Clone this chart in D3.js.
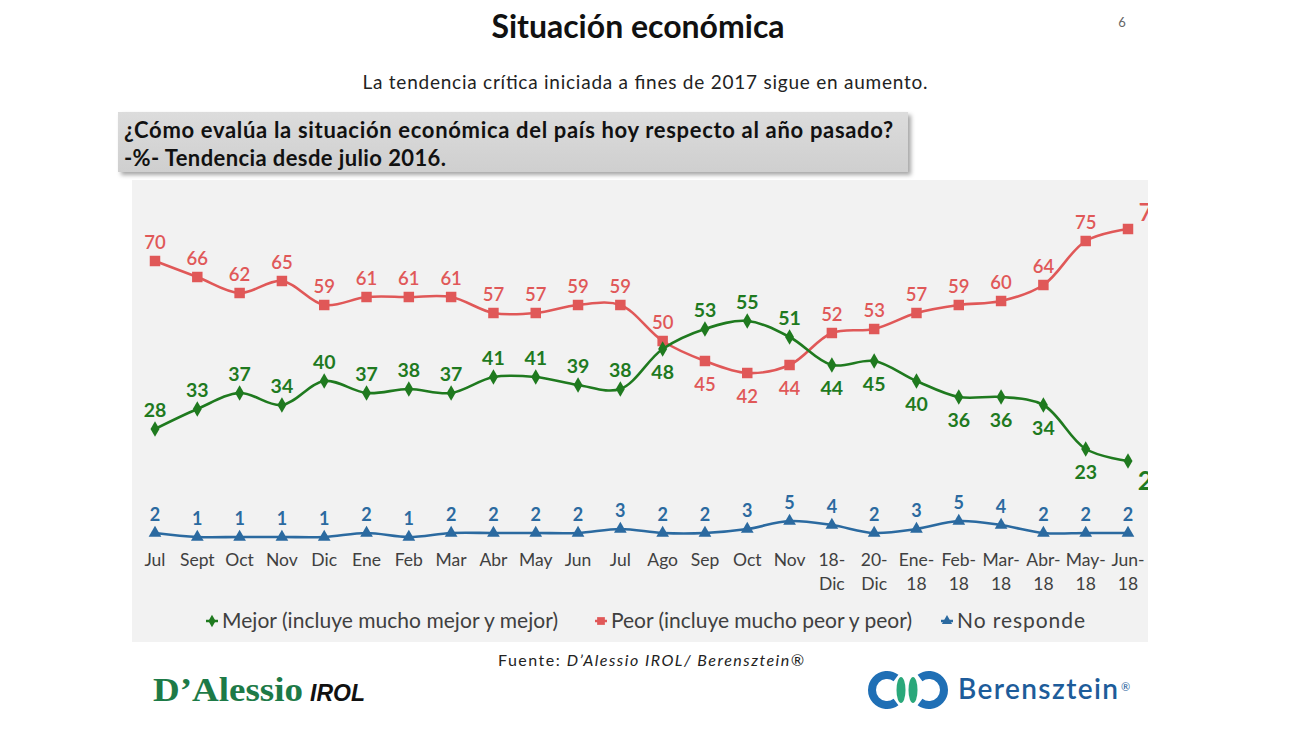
<!DOCTYPE html>
<html><head><meta charset="utf-8">
<script src="https://cdn.jsdelivr.net/npm/d3@7/dist/d3.min.js"></script>
<style>html,body{margin:0;padding:0;background:#fff;}svg{display:block;}</style>
</head><body>
<svg id="c" width="1300" height="730"></svg>
<script>
const categories = [["Jul"],["Sept"],["Oct"],["Nov"],["Dic"],["Ene"],["Feb"],["Mar"],["Abr"],["May"],["Jun"],["Jul"],["Ago"],["Sep"],["Oct"],["Nov"],["18-","Dic"],["20-","Dic"],["Ene-","18"],["Feb-","18"],["Mar-","18"],["Abr-","18"],["May-","18"],["Jun-","18"]];
const mejor = [28,33,37,34,40,37,38,37,41,41,39,38,48,53,55,51,44,45,40,36,36,34,23,20];
const peor  = [70,66,62,65,59,61,61,61,57,57,59,59,50,45,42,44,52,53,57,59,60,64,75,78];
const noResp = [2,1,1,1,1,2,1,2,2,2,2,3,2,2,3,5,4,2,3,5,4,2,2,2];
const mejorBelow = [12,16,17,18,19,20,21,22,23];
const peorBelow = [13,14,15];
const seriesNames = ["Mejor (incluye mucho mejor y mejor)","Peor (incluye mucho peor y peor)","No responde"];

const FONT = "Lato, 'Open Sans', sans-serif";
const GREEN = "#1f7a1f", RED = "#e05858", BLUE = "#2b6aa0", GRAY = "#404040";
const svg = d3.select("#c");

// Title
svg.append("text").attr("x",638).attr("y",38).attr("text-anchor","middle")
  .attr("font-family",FONT).attr("font-weight","bold").attr("font-size",32).attr("fill","#111")
  .text("Situación económica");
svg.append("text").attr("x",1122).attr("y",27).attr("text-anchor","middle")
  .attr("font-family",FONT).attr("font-size",13).attr("fill","#666").text("6");
svg.append("text").attr("x",645).attr("y",89).attr("text-anchor","middle")
  .attr("font-family",FONT).attr("font-size",19).attr("fill","#222")
  .attr("textLength",565).attr("lengthAdjust","spacing")
  .text("La tendencia crítica iniciada a fines de 2017 sigue en aumento.");

// chart panel
svg.append("rect").attr("x",132).attr("y",180).attr("width",1016).attr("height",462).attr("fill","#f2f2f2");

// question box
const defs = svg.append("defs");
const f = defs.append("filter").attr("id","sh").attr("x","-5%").attr("y","-20%").attr("width","110%").attr("height","150%");
f.append("feDropShadow").attr("dx",3).attr("dy",3).attr("stdDeviation",2).attr("flood-color","#000").attr("flood-opacity",0.35);
const g1 = defs.append("linearGradient").attr("id","gb").attr("x1",0).attr("y1",0).attr("x2",0).attr("y2",1);
g1.append("stop").attr("offset","0%").attr("stop-color","#dcdcdc");
g1.append("stop").attr("offset","100%").attr("stop-color","#cfcfcf");
svg.append("rect").attr("x",118).attr("y",112).attr("width",790).attr("height",60).attr("fill","url(#gb)").attr("filter","url(#sh)");
svg.append("text").attr("x",124).attr("y",138).attr("font-family",FONT).attr("font-weight","bold").attr("font-size",22).attr("fill","#111")
  .attr("textLength",769).attr("lengthAdjust","spacing")
  .text("¿Cómo evalúa la situación económica del país hoy respecto al año pasado?");
svg.append("text").attr("x",124).attr("y",166).attr("font-family",FONT).attr("font-weight","bold").attr("font-size",22).attr("fill","#111")
  .attr("textLength",322).attr("lengthAdjust","spacing")
  .text("-%- Tendencia desde julio 2016.");

// scales
const x = d3.scalePoint().domain(d3.range(categories.length)).range([155,1128]);
const y = d3.scaleLinear().domain([0,78]).range([541,229]);

// clip to panel
defs.append("clipPath").attr("id","clp").append("rect").attr("x",132).attr("y",180).attr("width",1016).attr("height",462);
const plot = svg.append("g").attr("clip-path","url(#clp)");

const line = d3.line().x((d,i)=>x(i)).y(d=>y(d)).curve(d3.curveCatmullRom.alpha(0.5));
const last = categories.length - 1;

function drawSeries(data, color, sym, size, below, lblWeight, lblSize, bigLast){
  plot.append("path").attr("d",line(data)).attr("fill","none").attr("stroke",color).attr("stroke-width",2.6);
  plot.selectAll(null).data(data).enter().append("path")
    .attr("transform",(d,i)=>`translate(${x(i)},${y(d)})`)
    .attr("d",d3.symbol().type(sym).size(size)).attr("fill",color);
  plot.selectAll(null).data(data).enter().append("text")
    .attr("x",(d,i)=> (bigLast && i===last) ? x(i)+25 : x(i))
    .attr("y",(d,i)=> (bigLast && i===last) ? (below.includes(i) ? y(d)+29 : y(d)-8) : (below.includes(i) ? y(d)+30 : y(d)-12))
    .attr("text-anchor","middle").attr("font-family",FONT).attr("font-weight",lblWeight)
    .attr("font-size",(d,i)=> (bigLast && i===last) ? lblSize*1.35 : lblSize).attr("fill",color).text(d=>d);
}
drawSeries(noResp, BLUE, d3.symbolTriangle, 70, [], "bold", 18, false);
drawSeries(peor, RED, d3.symbolSquare, 110, peorBelow, "600", 18.5, true);
drawSeries(mejor, GREEN, d3.symbolDiamond, 70, mejorBelow, "bold", 19.5, true);

// x axis labels
const xa = svg.append("g").attr("transform","translate(0,566)");
categories.forEach((c,i)=>{
  c.forEach((t,j)=>{
    xa.append("text").attr("x",x(i)).attr("y",j*24).attr("text-anchor","middle")
      .attr("font-family",FONT).attr("font-size",17.5).attr("fill",GRAY).text(t);
  });
});

// legend
const legendX = [222, 611, 957];
const legendW = [336, 301, 128];
const legendSym = [d3.symbolDiamond, d3.symbolSquare, d3.symbolTriangle];
const legendCol = [GREEN, RED, BLUE];
seriesNames.forEach((n,i)=>{
  svg.append("path").attr("transform",`translate(${legendX[i]-10},${621})`)
    .attr("d",d3.symbol().type(legendSym[i]).size(i===1?60:45)).attr("fill",legendCol[i]);
  svg.append("path").attr("d",`M${legendX[i]-16},621H${legendX[i]-4}`).attr("stroke",legendCol[i]).attr("stroke-width",2.5);
  svg.append("text").attr("x",legendX[i]).attr("y",628).attr("font-family",FONT).attr("font-size",21)
    .attr("fill",GRAY).attr("textLength",legendW[i]).attr("lengthAdjust","spacing").text(n);
});

// source
const src = svg.append("text").attr("x",498).attr("y",666).attr("font-family",FONT).attr("font-size",16).attr("fill","#222")
  .attr("textLength",306).attr("lengthAdjust","spacing");
src.append("tspan").text("Fuente: ");
src.append("tspan").attr("font-style","italic").text("D’Alessio IROL/ Berensztein®");

// D'Alessio logo
svg.append("text").attr("x",153).attr("y",701).attr("font-family","'Liberation Serif', serif").attr("font-weight","bold")
  .attr("font-size",34).attr("fill","#1d7a47").attr("textLength",150).attr("lengthAdjust","spacingAndGlyphs").text("D’Alessio");
svg.append("text").attr("x",310).attr("y",701).attr("font-family","'Liberation Sans', sans-serif").attr("font-weight","bold")
  .attr("font-style","italic").attr("font-size",23).attr("fill","#111").text("IROL");

// Berensztein logo
const lg = svg.append("g").attr("transform","translate(868,672)");
lg.append("path").attr("d","M28,6 A15,15 0 1,0 28,30").attr("fill","none").attr("stroke","#1f6fb5").attr("stroke-width",8);
lg.append("path").attr("d","M52,6 A15,15 0 1,1 52,30").attr("fill","none").attr("stroke","#1f6fb5").attr("stroke-width",8);
lg.append("ellipse").attr("cx",33).attr("cy",18).attr("rx",4.5).attr("ry",13).attr("fill","#2aa87a");
lg.append("ellipse").attr("cx",45).attr("cy",18).attr("rx",4.5).attr("ry",13).attr("fill","#2aa87a");
svg.append("text").attr("x",958).attr("y",699).attr("font-family",FONT).attr("font-weight","600")
  .attr("font-size",28).attr("fill","#1d5c9a").attr("textLength",160).attr("lengthAdjust","spacing").text("Berensztein");
svg.append("text").attr("x",1121).attr("y",691).attr("font-family",FONT)
  .attr("font-size",11).attr("fill","#1d5c9a").text("®");
</script>
</body></html>
